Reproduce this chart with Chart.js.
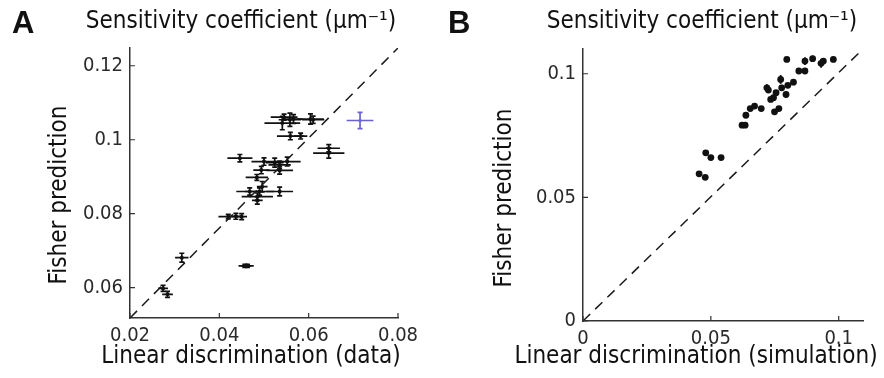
<!DOCTYPE html>
<html>
<head>
<meta charset="utf-8">
<script src="https://cdn.jsdelivr.net/npm/chart.js@4.4.0/dist/chart.umd.min.js"></script>
<style>
  body { margin: 0; background: #fff; width: 884px; height: 378px; overflow: hidden; position: relative; }
  canvas { position: absolute; top: 0; }
</style>
</head>
<body>
<canvas id="chartA" width="442" height="378" style="left:0"></canvas>
<canvas id="chartB" width="442" height="378" style="left:442px"></canvas>
<script>
// Panel A: recorded cells (linear discrimination vs Fisher prediction)
const dataAx = [0.0274, 0.0284, 0.0316, 0.0420, 0.0437, 0.0450, 0.0457, 0.0463, 0.0446, 0.0500, 0.0524,
    0.0535, 0.0552, 0.0535, 0.0494, 0.0484, 0.0496, 0.0490, 0.0468, 0.0535, 0.0485, 0.0485, 0.0541,
    0.0558, 0.0566, 0.0545, 0.0604, 0.0610, 0.0559, 0.0582, 0.0645, 0.0645];
const dataAy = [0.0598, 0.0582, 0.0681, 0.0792, 0.0793, 0.0792, 0.0659, 0.0659, 0.0950, 0.0941, 0.0938,
    0.0932, 0.0941, 0.0917, 0.0918, 0.0898, 0.0873, 0.0860, 0.0860, 0.0860, 0.0846, 0.0836, 0.1045,
    0.1054, 0.1056, 0.1061, 0.1056, 0.1054, 0.1010, 0.1010, 0.0977, 0.0964];
const dataAxErr = [0.0011, 0.0012, 0.0015, 0.0022, 0.0015, 0.0012, 0.0014, 0.0014, 0.0028, 0.0028, 0.0020,
    0.0025, 0.0030, 0.0030, 0.0018, 0.0025, 0.0012, 0.0033, 0.0030, 0.0030, 0.0035, 0.0012, 0.0040,
    0.0025, 0.0020, 0.0030, 0.0030, 0.0025, 0.0030, 0.0015, 0.0025, 0.0035];
const dataAyErr = [0.0008, 0.0008, 0.0012, 0.0006, 0.0008, 0.0008, 0.0004, 0.0004, 0.0010, 0.0010, 0.0012,
    0.0010, 0.0012, 0.0010, 0.0010, 0.0008, 0.0014, 0.0010, 0.0010, 0.0012, 0.0010, 0.0010, 0.0018,
    0.0018, 0.0012, 0.0008, 0.0014, 0.0010, 0.0010, 0.0008, 0.0010, 0.0014];
// the blue cell
const blueAx = [0.0715];
const blueAy = [0.1052];
const blueAxErr = [0.0030];
const blueAyErr = [0.0022];
const diagAx = [0.02, 0.08];
const diagAy = [0.0518, 0.1248];
const ticksAx = [0.02, 0.04, 0.06, 0.08];
const ticksAy = [0.06, 0.08, 0.1, 0.12];

// Panel B: simulated cells
const simBx = [0.0454, 0.0478, 0.0480, 0.0500, 0.0540, 0.0622, 0.0634, 0.0637, 0.0654, 0.0671, 0.0697,
    0.0719, 0.0725, 0.0734, 0.0745, 0.0749, 0.0766, 0.0755, 0.0773, 0.0777, 0.0794, 0.0801, 0.0797,
    0.0823, 0.0844, 0.0868, 0.0868, 0.0898, 0.0931, 0.0940, 0.0979];
const simBy = [0.0595, 0.0581, 0.0680, 0.0661, 0.0661, 0.0792, 0.0792, 0.0832, 0.0859, 0.0869, 0.0859,
    0.0943, 0.0934, 0.0896, 0.0903, 0.0846, 0.0859, 0.0923, 0.0977, 0.0943, 0.0916, 0.0953, 0.1058,
    0.0966, 0.1011, 0.1011, 0.1051, 0.1061, 0.1042, 0.1051, 0.1058];
const simByErr = [0.0008, 0.0008, 0.0008, 0.0008, 0.0008, 0.0008, 0.0008, 0.0008, 0.0008, 0.0008, 0.0008,
    0.0015, 0.0008, 0.0008, 0.0008, 0.0008, 0.0008, 0.0008, 0.0018, 0.0012, 0.0012, 0.0008, 0.0008,
    0.0012, 0.0008, 0.0008, 0.0016, 0.0012, 0.0018, 0.0012, 0.0008];
const diagBx = [0, 0.1095];
const diagBy = [0, 0.110];
const ticksBx = [0, 0.05, 0.1];
const ticksBy = [0, 0.05, 0.1];

const FONT = '"DejaVu Sans Condensed", "DejaVu Sans", sans-serif';
const toPts = (xs, ys) => xs.map((v, i) => ({ x: v, y: ys[i] }));
const fmt = v => String(+v.toFixed(3));

// error bars, drawn under the markers
const errorBars = {
    id: 'errorBars',
    beforeDatasetsDraw(chart) {
        const { ctx, scales: { x, y } } = chart;
        chart.data.datasets.forEach(ds => {
            if (!ds.xErr && !ds.yErr) return;
            ctx.save();
            ctx.strokeStyle = ds.backgroundColor;
            ctx.lineWidth = ds.errWidth || 1.7;
            ds.data.forEach((p, i) => {
                const px = x.getPixelForValue(p.x), py = y.getPixelForValue(p.y);
                ctx.beginPath();
                if (ds.xErr) {
                    ctx.moveTo(x.getPixelForValue(p.x - ds.xErr[i]), py);
                    ctx.lineTo(x.getPixelForValue(p.x + ds.xErr[i]), py);
                }
                if (ds.yErr) {
                    const y0 = y.getPixelForValue(p.y - ds.yErr[i]);
                    const y1 = y.getPixelForValue(p.y + ds.yErr[i]);
                    const c = ds.capSize || 0;
                    ctx.moveTo(px, y0); ctx.lineTo(px, y1);
                    if (c) {
                        ctx.moveTo(px - c, y0); ctx.lineTo(px + c, y0);
                        ctx.moveTo(px - c, y1); ctx.lineTo(px + c, y1);
                    }
                }
                ctx.stroke();
            });
            ctx.restore();
        });
    }
};

// inside tick marks, panel letter and titles
const decorations = {
    id: 'decorations',
    afterDraw(chart, args, o) {
        const { ctx, scales: { x, y } } = chart;
        ctx.save();
        ctx.strokeStyle = '#333';
        ctx.lineWidth = 1.2;
        ctx.beginPath();
        x.ticks.forEach((t, i) => {
            const px = x.getPixelForTick(i);
            ctx.moveTo(px, y.bottom); ctx.lineTo(px, y.bottom - 5);
        });
        y.ticks.forEach((t, i) => {
            const py = y.getPixelForTick(i);
            ctx.moveTo(x.left, py); ctx.lineTo(x.left + 5, py);
        });
        ctx.stroke();

        ctx.fillStyle = '#111';
        ctx.textBaseline = 'alphabetic';
        ctx.textAlign = 'left';
        ctx.font = 'bold 31px "Liberation Sans", Arial, sans-serif';
        ctx.fillText(o.letter, o.letterX, 33);

        ctx.font = '24px ' + FONT;
        ctx.textAlign = 'center';
        ctx.textBaseline = 'middle';
        ctx.fillText('Sensitivity coefficient (\u03bcm\u207b\u00b9)', o.titleX, 22);
        ctx.fillText(o.xTitle, o.xTitleX, 357);
        ctx.translate(o.yTitleX, o.yTitleY);
        ctx.rotate(-Math.PI / 2);
        ctx.fillText('Fisher prediction', 0, 0);
        ctx.restore();
    }
};

function axis(min, max, ticks, isX, size) {
    return {
        type: 'linear',
        min: min,
        max: max,
        grid: { display: false, drawTicks: false },
        border: { display: true, color: '#333', width: 1.5 },
        afterBuildTicks: s => { s.ticks = ticks.map(v => ({ value: v })); },
        afterFit: s => { if (isX) s.height = size; else s.width = size; },
        ticks: {
            autoSkip: false,
            maxRotation: 0,
            padding: isX ? 6 : 7,
            color: '#2a2a2a',
            font: { family: FONT, size: 20 },
            callback: v => fmt(v)
        }
    };
}

const common = {
    responsive: false,
    animation: false,
    events: [],
    plugins: { legend: { display: false }, tooltip: { enabled: false } }
};

new Chart(document.getElementById('chartA'), {
    type: 'scatter',
    data: {
        datasets: [
            {
                data: toPts(diagAx, diagAy), showLine: true, pointRadius: 0,
                borderColor: '#1a1a1a', borderWidth: 1.5, borderDash: [10, 7]
            },
            {
                data: toPts(dataAx, dataAy), xErr: dataAxErr, yErr: dataAyErr, capSize: 2.5,
                backgroundColor: '#111', borderWidth: 0, pointRadius: 2
            },
            {
                data: toPts(blueAx, blueAy), xErr: blueAxErr, yErr: blueAyErr, capSize: 2.5,
                backgroundColor: '#6a62d4', borderWidth: 0, pointRadius: 1.6
            }
        ]
    },
    options: {
        ...common,
        layout: { padding: { left: 0, top: 48, right: 44, bottom: 0 } },
        scales: {
            x: axis(0.02, 0.08, ticksAx, true, 60),
            y: axis(0.0518, 0.1248, ticksAy, false, 130)
        },
        plugins: {
            ...common.plugins,
            decorations: {
                letter: 'A', letterX: 12, titleX: 241,
                xTitle: 'Linear discrimination (data)', xTitleX: 251,
                yTitleX: 60, yTitleY: 195
            }
        }
    },
    plugins: [errorBars, decorations]
});

new Chart(document.getElementById('chartB'), {
    type: 'scatter',
    data: {
        datasets: [
            {
                data: toPts(diagBx, diagBy), showLine: true, pointRadius: 0,
                borderColor: '#1a1a1a', borderWidth: 1.5, borderDash: [10, 7]
            },
            {
                data: toPts(simBx, simBy), yErr: simByErr, errWidth: 1.8,
                backgroundColor: '#111', borderWidth: 0, pointRadius: 3.4
            }
        ]
    },
    options: {
        ...common,
        layout: { padding: { left: 0, top: 49, right: 21, bottom: 0 } },
        scales: {
            x: axis(0, 0.1095, ticksBx, true, 57),
            y: axis(0, 0.110, ticksBy, false, 141)
        },
        plugins: {
            ...common.plugins,
            decorations: {
                letter: 'B', letterX: 6, titleX: 260,
                xTitle: 'Linear discrimination (simulation)', xTitleX: 254,
                yTitleX: 63, yTitleY: 198
            }
        }
    },
    plugins: [errorBars, decorations]
});
</script>
</body>
</html>
